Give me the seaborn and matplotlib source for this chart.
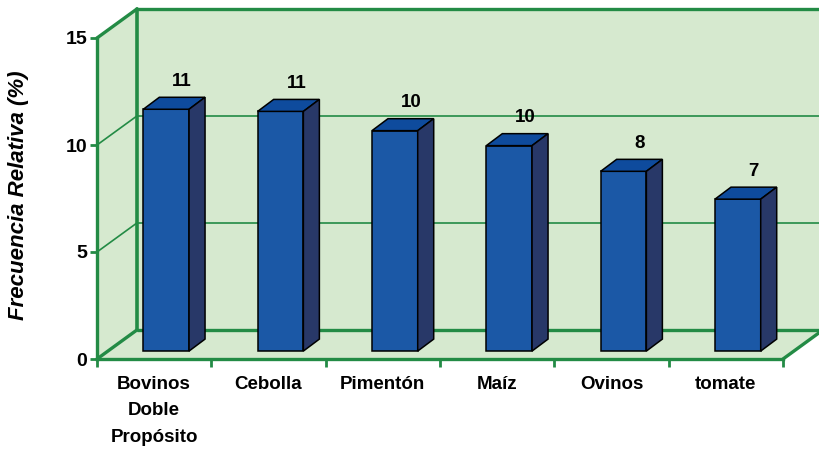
import matplotlib
matplotlib.use("Agg")
import matplotlib.pyplot as plt
from matplotlib.patches import Polygon
import seaborn as sns
import pandas as pd

# data
categories = ["Bovinos\nDoble\nPropósito", "Cebolla", "Pimentón", "Maíz", "Ovinos", "tomate"]
frecuencia = [11.3, 11.2, 10.3, 9.6, 8.4, 7.1]
value_labels = ["11", "11", "10", "10", "8", "7"]
y_ticks = [0, 5, 10, 15]

# colours
wall_color = "#d6e9cf"
line_green = "#238b45"
bar_front = "#1b58a6"
bar_top = "#0e4b9d"
bar_side = "#283868"

# 3D offsets (data units): wall depth and bar depth
wall_dx, wall_dy = 0.35, 1.36
bar_dx, bar_dy = 0.14, 0.56
bar_shift_x, bar_shift_y = 0.105, 0.37


def draw_chart():
    sns.set_theme(style="white")
    plt.rcParams["font.family"] = ["Liberation Sans", "DejaVu Sans"]
    plt.rcParams["text.color"] = "black"
    plt.rcParams["xtick.labelcolor"] = "black"
    plt.rcParams["ytick.labelcolor"] = "black"

    df = pd.DataFrame({"Cultivo": categories, "Frecuencia": frecuencia})

    fig = plt.figure(figsize=(8.2, 4.49), dpi=100)
    ax = fig.add_axes([97 / 820, 90 / 449, 686 / 820, 321 / 449])

    # front faces through seaborn
    sns.barplot(data=df, x="Cultivo", y="Frecuencia", color=bar_front, saturation=1,
                width=0.4, edgecolor="black", linewidth=1.1, ax=ax, zorder=3)
    bars = list(ax.containers[0])

    ax.set_xlim(-0.5, 5.5)
    ax.set_ylim(0, 15)
    ax.patch.set_alpha(0)

    x0, x1 = -0.5, 5.5
    ytop = y_ticks[-1]

    # walls and floor
    walls = [
        [(x0, 0), (x1, 0), (x1 + wall_dx, wall_dy), (x0 + wall_dx, wall_dy)],
        [(x0, 0), (x0, ytop), (x0 + wall_dx, ytop + wall_dy), (x0 + wall_dx, wall_dy)],
        [(x0 + wall_dx, wall_dy), (x1 + 1, wall_dy), (x1 + 1, ytop + wall_dy), (x0 + wall_dx, ytop + wall_dy)],
    ]
    for w in walls:
        ax.add_patch(Polygon(w, closed=True, facecolor=wall_color, edgecolor="none",
                             zorder=0, clip_on=False))

    # gridlines on back wall and side wall
    for t in y_ticks:
        lw = 2.4 if t in (0, ytop) else 1.2
        ax.plot([x0 + wall_dx, x1 + 1], [t + wall_dy, t + wall_dy], color=line_green,
                lw=lw, zorder=1, clip_on=False, solid_capstyle="butt")
        ax.plot([x0, x0 + wall_dx], [t, t + wall_dy], color=line_green,
                lw=lw, zorder=1, clip_on=False)
    ax.plot([x0 + wall_dx, x0 + wall_dx], [wall_dy, ytop + wall_dy], color=line_green,
            lw=2.6, zorder=1, clip_on=False)
    ax.plot([x1, x1 + wall_dx], [0, wall_dy], color=line_green, lw=2.4, zorder=1, clip_on=False)

    for p, lab in zip(bars, value_labels):
        p.set_x(p.get_x() + bar_shift_x)
        p.set_y(bar_shift_y)
        p.set_clip_on(False)
        bx, by, bw, bh = p.get_x(), p.get_y(), p.get_width(), p.get_height()
        top = by + bh
        ax.add_patch(Polygon([(bx, top), (bx + bw, top), (bx + bw + bar_dx, top + bar_dy),
                              (bx + bar_dx, top + bar_dy)], closed=True, facecolor=bar_top,
                             edgecolor="black", lw=1.1, zorder=3, clip_on=False))
        ax.add_patch(Polygon([(bx + bw, by), (bx + bw + bar_dx, by + bar_dy),
                              (bx + bw + bar_dx, top + bar_dy), (bx + bw, top)], closed=True,
                             facecolor=bar_side, edgecolor="black", lw=1.1, zorder=3, clip_on=False))
        ax.text(bx + bw / 2 + bar_dx, top + bar_dy + 0.35, lab, ha="center", va="bottom",
                fontsize=13.5, fontweight="bold", color="black", zorder=4)

    # front axes
    for side in ("top", "right"):
        ax.spines[side].set_visible(False)
    for side in ("left", "bottom"):
        ax.spines[side].set_color(line_green)
        ax.spines[side].set_linewidth(2.4)
        ax.spines[side].set_zorder(5)

    ax.set_yticks(y_ticks)
    ax.set_yticklabels([str(t) for t in y_ticks], fontsize=14, fontweight="bold")
    ax.tick_params(axis="y", which="major", color=line_green, length=5, width=2,
                   direction="out", left=True, pad=2)

    ax.set_xticks(range(len(categories)))
    ax.set_xticklabels(categories, fontsize=13.5, fontweight="bold")
    ax.set_xticks([i - 0.5 for i in range(len(categories) + 1)], minor=True)
    ax.tick_params(axis="x", which="major", length=0, pad=12)
    ax.tick_params(axis="x", which="minor", color=line_green, length=6, width=2,
                   direction="out", bottom=True)
    for t in ax.get_xticklabels():
        t.set_linespacing(1.75)
        t.set_va("top")

    ax.set_xlabel("")
    ax.set_ylabel("")
    fig.text(19 / 820, 1 - 195 / 449, "Frecuencia Relativa (%)", rotation=90,
             ha="center", va="center", fontsize=16, fontweight="bold", fontstyle="italic")

    fig.savefig("out.png", dpi=100)


if __name__ == "__main__":
    draw_chart()
